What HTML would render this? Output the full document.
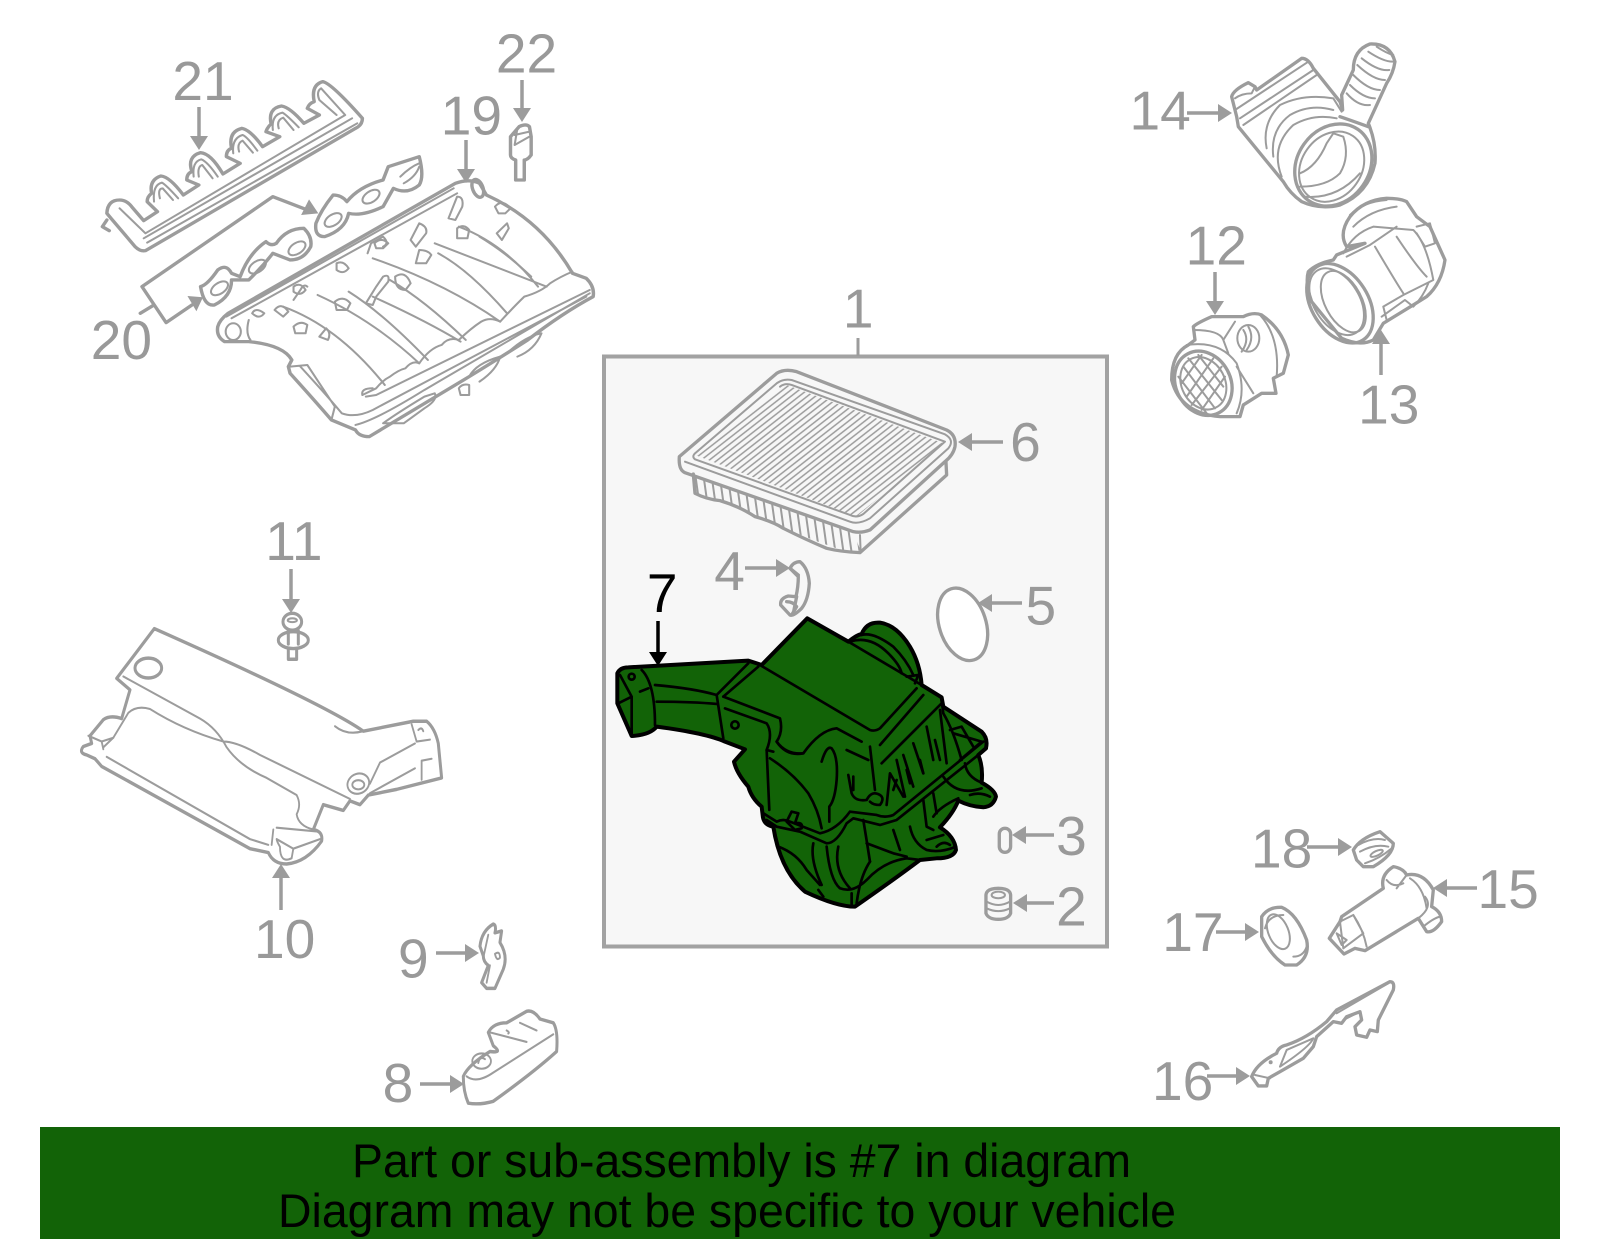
<!DOCTYPE html>
<html><head><meta charset="utf-8"><style>
html,body{margin:0;padding:0;background:#fff;width:1600px;height:1249px;overflow:hidden}
svg{display:block}
.g{fill:none;stroke:#9c9c9c;stroke-linejoin:round;stroke-linecap:round}
.k{fill:none;stroke:#000;stroke-linejoin:round;stroke-linecap:round}
text{font-family:"Liberation Sans",sans-serif}
.n{font-size:54px;fill:#999;text-anchor:middle}
.b{font-size:47px;fill:#000}
</style></head><body>
<svg width="1600" height="1249" viewBox="0 0 1600 1249" xmlns="http://www.w3.org/2000/svg">
<defs>
<pattern id="st" width="15" height="15" patternUnits="userSpaceOnUse" patternTransform="rotate(-38)"><line x1="0" y1="7" x2="15" y2="7" stroke="#9c9c9c" stroke-width="4.500"/></pattern>
<pattern id="fi" width="24" height="24" patternUnits="userSpaceOnUse" patternTransform="rotate(-8)"><line x1="12" y1="0" x2="12" y2="24" stroke="#9c9c9c" stroke-width="6"/></pattern>
</defs>
<rect width="1600" height="1249" fill="#fff"/>
<rect x="604" y="356.500" width="503" height="590" fill="#f7f7f7" stroke="#a2a2a2" stroke-width="4"/>
<rect x="40" y="1127" width="1520" height="112" fill="#126307"/>
<line x1="858" y1="338" x2="858" y2="356" stroke="#9c9c9c" stroke-width="3"/>

<!-- intake manifold, 21, 20, 22 -->
<g transform="translate(80,20) scale(.3444,.3333)">
<g class="g" stroke-width="10">
<path d="M78 580Q80 540 115 540Q135 540 150 560L185 602L225 575L195 545Q195 530 208 520Q200 480 235 468Q260 470 300 525L345 495L310 480Q310 460 325 455Q310 410 350 398Q380 400 415 462L465 430L425 410Q425 390 440 385Q430 335 470 325Q495 330 530 380L580 350L540 335Q545 320 555 312Q545 265 585 258Q610 262 650 310L695 285L660 265Q665 250 680 245Q670 195 705 185Q730 190 820 295Q820 315 800 325L190 692Q175 695 160 680L90 595Z"/>
<path d="M78 600L65 620L85 632"/>
</g>
<g class="g" stroke-width="6">
<path d="M115 565L190 640L770 285L700 205Q685 215 695 240L745 285"/>
<path d="M185 655L790 295M195 668L805 310"/>
<path d="M215 545Q210 495 238 488Q250 495 285 535M232 535Q225 505 240 505L270 540"/>
<path d="M330 470Q325 425 352 418Q370 425 400 470M345 470Q340 440 355 435L385 475"/>
<path d="M445 400Q440 355 472 345Q485 350 515 392M462 395Q455 370 472 362L502 398"/>
<path d="M560 330Q555 285 588 278Q600 285 635 322M577 325Q570 300 590 293L620 330"/>
</g>
<g class="g" stroke-width="10">
<path d="M660 570L560 530L180 800L250 908L325 855M175 880L215 855"/>
<path d="M350 800Q370 795 400 750Q425 730 440 760L465 770Q490 700 540 665Q555 680 570 670Q600 625 650 625Q675 650 670 680Q650 720 610 720L560 700Q530 740 490 780L440 780Q440 830 390 855Q360 860 350 800Z"/>
<path d="M685 610Q700 570 735 525Q760 525 775 545Q810 500 880 480L895 440L985 410Q1000 470 985 495Q950 525 910 505L880 560Q820 590 780 580Q770 630 710 650Q680 650 685 610Z"/>
</g>
<polygon points="692,580 642,585 665,538" fill="#9c9c9c"/>
<polygon points="357,832 312,828 338,874" fill="#9c9c9c"/>
<g class="g" stroke-width="6">
<ellipse cx="405" cy="805" rx="28" ry="16" transform="rotate(-35 405 805)"/>
<ellipse cx="515" cy="740" rx="28" ry="16" transform="rotate(-35 515 740)"/>
<ellipse cx="630" cy="685" rx="28" ry="16" transform="rotate(-35 630 685)"/>
<ellipse cx="735" cy="600" rx="28" ry="16" transform="rotate(-35 735 600)"/>
<ellipse cx="845" cy="530" rx="28" ry="16" transform="rotate(-35 845 530)"/>
<path d="M930 470Q960 440 985 430M940 490Q975 470 985 440"/>
</g>
<g class="g" stroke-width="10">
<path d="M400 920Q405 900 430 880L1090 490Q1130 475 1160 490L1180 525Q1340 600 1430 760L1470 775Q1495 800 1490 830Q1400 880 1300 960Q1240 1000 1130 1070Q1000 1150 840 1250Q810 1250 800 1230L730 1200Q680 1140 610 1060L605 1040L615 1020Q590 975 490 965L420 965Q395 950 400 920Z"/>
<path d="M1250 350L1275 320Q1295 310 1305 320L1310 350V405Q1300 420 1290 420V480H1265V420Q1250 415 1250 405Z"/>
<ellipse cx="1155" cy="505" rx="15" ry="28" transform="rotate(-20 1155 505)"/>
</g>
<g class="g" stroke-width="6">
<path d="M1262 345L1305 335M1262 375L1305 350M1270 325L1262 375"/>
<path d="M490 900Q480 940 495 960M425 890L1085 505M440 895L1095 520"/>
<ellipse cx="445" cy="935" rx="22" ry="25"/>
<path d="M820 1125L860 1105Q880 1080 900 1070Q925 1050 945 1045Q965 1020 985 1030Q1015 985 1050 975Q1070 950 1100 960Q1135 925 1165 905Q1190 890 1220 905Q1260 860 1290 830Q1340 815 1365 790Q1395 770 1430 755"/>
<path d="M820 1125Q815 1105 850 1105M830 1130L860 1125L1480 810"/>
<path d="M590 860Q750 920 885 1095M690 825Q850 900 985 1030M850 830Q1000 900 1105 965M850 715Q1060 790 1220 905M1030 670Q1180 730 1355 800M1100 620Q1230 670 1330 800M835 700L845 670L880 650Q900 670 880 680M620 840L640 810Q650 790 660 800"/>
<path d="M780 815Q880 880 1010 1020M900 780Q1000 840 1120 960M1040 700Q1130 750 1240 880M1160 650Q1240 700 1310 770"/>
<path d="M500 880Q510 860 535 880Q520 900 500 880M565 870Q585 845 605 875L590 890ZM620 800Q640 785 655 810Q640 830 620 815ZM745 730Q765 720 780 745Q765 765 745 750Z"/>
<path d="M620 920Q640 900 660 915L655 940H625ZM695 950L715 925Q730 940 720 960ZM740 845Q765 825 785 850L775 870H745ZM855 670Q875 650 895 670L880 685H860ZM960 660L985 610Q1010 620 1005 640L975 680ZM1070 595L1095 530Q1115 530 1110 560L1090 600ZM1095 625Q1115 610 1130 630L1125 655H1095ZM1210 640L1240 610L1245 625L1225 660ZM1205 560Q1225 535 1250 565L1235 580H1215Z"/>
<path d="M830 850L860 800L880 770Q900 760 895 785L860 830L850 855ZM915 770Q945 750 960 790L945 810Q915 810 915 770ZM985 690Q1010 690 1020 705L1005 730H975Z"/>
<path d="M610 1040L660 1035L740 1160L730 1200M640 1040Q720 1130 760 1180Q800 1195 850 1170L1470 830M800 1215Q860 1200 1000 1110L1480 820"/>
<path d="M880 1210Q920 1180 1000 1130L1030 1120Q1040 1140 1000 1165L940 1210ZM1130 1070Q1150 1030 1220 1010Q1210 1050 1160 1085M1240 1000Q1290 950 1340 940Q1320 990 1270 1010M1100 1105Q1110 1090 1130 1095L1130 1125H1105Z"/>
</g>
</g>

<!-- air filter, 6 -->
<g transform="translate(640,340) scale(.3333)">
<polygon points="165,345 440,135 910,310 650,530" fill="url(#st)"/>
<polygon points="160,402 640,578 662,632 620,636 520,600 420,560 330,520 240,482 165,460" fill="url(#fi)"/>
<g class="g" stroke-width="10">
<path d="M118 350L410 100Q435 85 470 95L920 270Q950 285 945 320Q940 345 915 365L690 570Q665 580 640 575L135 398Q115 390 118 350Z"/>
<path d="M160 402L165 460Q200 478 240 482Q300 500 345 530Q400 545 430 565Q500 600 560 625Q600 635 660 638L920 405L918 365"/>
</g>
<g class="g" stroke-width="6">
<path d="M135 365L630 545Q655 555 690 535L925 325Q945 300 915 283L455 120Q430 115 410 130L165 340Q155 350 165 358L630 525Q650 535 670 522L915 305L455 135Q435 128 420 140"/>
<path d="M660 585L662 635"/>
</g>
</g>

<!-- 4,5,3,2 and air box -->
<g transform="translate(560,560) scale(.3333)">
<g class="g" stroke-width="10">
<path d="M690 25Q700 5 720 5Q745 25 748 70Q745 120 725 145Q700 170 690 165L662 135Q660 115 685 108L708 110Q715 80 715 50Q700 35 690 25Z"/>
<path d="M680 125Q700 125 710 140L695 165M710 110L700 160M715 45L690 25"/>
<ellipse cx="1208" cy="193" rx="70" ry="112" transform="rotate(-18 1208 193)" style="fill:#fff"/>
<rect x="1318" y="805" width="34" height="72" rx="17"/>
<path d="M1278 1005Q1280 985 1315 985Q1350 985 1352 1005L1352 1060Q1345 1078 1315 1078Q1285 1078 1278 1060Z"/>
</g>
<g class="g" stroke-width="6">
<ellipse cx="1315" cy="1005" rx="20" ry="10"/>
<path d="M1280 1025Q1315 1045 1350 1025M1280 1045Q1315 1062 1350 1045"/>
</g>
<path d="M172 340Q180 322 205 322L565 302Q590 310 605 315L742 175L865 245Q890 225 905 222Q920 185 960 188Q1010 195 1050 260Q1080 310 1085 375L1145 412L1150 440L1265 515Q1285 535 1278 565L1255 585Q1270 620 1265 668Q1305 690 1308 710Q1300 740 1270 742Q1230 740 1195 722Q1180 760 1140 802Q1185 830 1188 870Q1180 895 1130 895L1080 900Q1000 960 885 1040Q830 1040 735 995Q660 930 640 800Q610 795 608 765L605 740Q575 715 565 680Q530 640 522 605L555 568L495 545Q440 520 290 500Q270 525 215 528L172 430Z" fill="#126307" stroke="#000" stroke-width="12" stroke-linejoin="round"/>
<g class="k" stroke-width="8">
<path d="M180 345L215 410L215 525M215 410L175 430M245 330Q285 370 285 495M240 395L265 385"/>
<circle cx="215" cy="350" r="9"/>
<path d="M285 375Q400 385 470 405L490 535M290 425Q400 425 470 432M470 405L565 310M490 410L595 320"/>
<path d="M490 410L660 475Q670 515 650 545Q680 585 730 580Q780 510 830 505L905 545M495 445L620 490Q640 520 620 570L640 575"/>
<circle cx="525" cy="495" r="11"/>
<path d="M605 318L930 510Q945 515 960 505L1070 385M865 245L1085 375M960 555L1090 405M965 610L1145 430M1145 420L1150 460Q1180 510 1205 600"/>
<path d="M620 570L628 750M630 595Q700 640 745 700Q775 750 785 805"/>
<path d="M650 545Q680 590 730 580"/>
<path d="M785 605Q800 555 815 565Q835 590 830 660Q825 720 808 740V785M860 570L925 600M930 560L945 690"/>
<path d="M865 645L875 700Q885 725 920 720Q935 690 960 705Q975 715 960 735Q940 735 930 725M880 650V690M980 735L990 640L1030 710M1010 600L1035 710M1030 585L1060 680M1060 550L1090 640M1100 500L1120 600M1140 450L1160 610"/>
<path d="M1000 690L1010 660M1040 630L1050 670M1080 600L1090 640M1125 540L1140 600"/>
<path d="M1170 510L1205 500L1240 560M1180 520L1265 545L1200 600"/>
<path d="M610 760L650 785Q670 775 690 785L780 820Q830 810 870 755L950 765Q975 775 1000 765L1270 545M620 780L650 800L720 815L800 850Q830 850 860 790L880 775L960 795L1010 780L1280 565M680 785L695 755L715 760L705 790Q730 785 725 805L705 810Z"/>
<path d="M910 780Q920 840 930 905M1000 810L1020 870M1050 800Q1060 850 1100 870Q1140 880 1188 860M1130 860Q1150 840 1170 855M1100 840L1150 825"/>
<path d="M640 800L655 860Q710 880 740 930L780 975M760 850Q750 900 785 975M800 860Q810 960 840 985Q880 1000 920 960Q970 905 1040 895L1080 900M835 860Q820 930 870 985M920 850L1000 880L1040 890M930 905Q900 950 890 1030M775 990L790 1010M875 1000V1040"/>
<path d="M1120 770Q1140 740 1195 715M1150 650Q1190 710 1265 685M1230 705Q1260 695 1290 710M1130 760L1120 700M1090 720L1100 800L1120 810M1215 610Q1220 650 1265 668"/>
<path d="M905 225Q940 215 1000 260Q1040 300 1060 345M870 245Q930 225 985 280Q1020 315 1025 340M1040 350L1075 345L1065 370"/>
</g>
</g>

<!-- 10, 11, 9, 8 -->
<g transform="translate(60,510) scale(.3333,.3827)">
<g class="g" stroke-width="9">
<path d="M283 310L170 440L210 470L185 545Q150 535 130 548L90 590L95 610L70 618Q55 635 80 640L105 650L125 670L570 885L625 895Q640 925 680 925Q740 920 785 865Q790 840 760 835L790 770L850 785L870 760L900 770L925 745L1010 730L1145 700L1135 610Q1125 570 1100 552L1060 552L910 578Q800 510 283 310Z"/>
<ellipse cx="265" cy="413" rx="40" ry="26"/>
</g>
<g class="g" stroke-width="5.500">
<path d="M190 435L420 545Q470 570 500 620Q540 670 620 700L710 745Q725 770 710 795Q715 825 760 835"/>
<path d="M130 620L160 595L205 530Q230 510 270 520Q370 575 490 605Q530 605 600 640L870 755"/>
<path d="M85 590L125 605L160 595M125 605L130 625"/>
<path d="M140 645L570 860L625 875M640 835L635 875M650 830L770 840M700 885L780 860M650 860L700 885L695 910Q660 925 660 880Q650 865 650 860"/>
<path d="M825 565Q860 590 910 578M1055 560L1070 605L1110 600M1065 610L960 660L930 715M1085 655L1115 650M1085 655V705M1065 675L930 740"/>
<ellipse cx="895" cy="715" rx="33" ry="26" transform="rotate(-15 895 715)"/>
<ellipse cx="895" cy="718" rx="18" ry="12"/>
<path d="M1075 575Q1085 565 1090 578"/>
</g>
<g class="g" stroke-width="9">
<ellipse cx="697" cy="292" rx="28" ry="22"/>
<ellipse cx="700" cy="340" rx="45" ry="22"/>
<path d="M685 315V350M715 315V350M685 365V390H710V365"/>
<path d="M1260 1140Q1265 1100 1300 1082Q1310 1085 1305 1105L1325 1100L1320 1130Q1345 1165 1330 1200L1305 1250H1280L1265 1235L1285 1190Q1270 1180 1270 1165Z"/>
<path d="M1210 1480Q1225 1450 1290 1415Q1330 1420 1300 1400L1285 1365Q1300 1340 1340 1340L1400 1310Q1420 1305 1440 1330L1480 1340Q1495 1360 1490 1415Q1420 1470 1300 1545Q1260 1555 1225 1550Q1210 1520 1210 1480Z"/>
</g>
<g class="g" stroke-width="5.500">
<ellipse cx="697" cy="288" rx="14" ry="5"/>
<ellipse cx="1265" cy="1440" rx="28" ry="20"/>
<path d="M1255 1445Q1260 1425 1275 1435M1220 1480Q1250 1500 1300 1470L1480 1370M1290 1365L1400 1390M1340 1360Q1350 1365 1345 1368M1380 1340L1430 1360"/>
<path d="M1305 1160Q1320 1150 1320 1170Q1310 1180 1305 1160M1285 1110L1270 1170M1290 1190L1280 1235"/>
</g>
</g>

<!-- 14, 13, 12 -->
<g transform="translate(1120,30) scale(.3333)">
<g class="g" stroke-width="10">
<path d="M335 200Q340 180 385 158L405 170L410 180L545 85Q565 85 580 115L660 215L668 240L665 195L700 120Q700 60 750 42Q810 40 825 95Q820 130 800 160L745 280Q770 340 765 400Q745 490 660 525Q600 540 545 515Q510 490 490 455L355 290L350 260Z"/>
<path d="M660 260Q690 270 745 290"/>
<ellipse cx="640" cy="405" rx="108" ry="130" transform="rotate(35 640 405)"/>
<path d="M665 925L575 815Q555 760 565 725Q590 700 640 690L650 675L735 640L680 650Q655 610 690 560Q730 510 800 505Q840 505 860 515L890 560L930 590L975 690Q965 760 920 800L880 825L790 880L760 930Q720 950 665 925Z"/>
<ellipse cx="660" cy="820" rx="85" ry="130" transform="rotate(-32 660 820)"/>
<path d="M220 890Q230 880 275 860L370 860Q400 845 425 855Q490 900 505 975L490 1030L460 1045L468 1090L425 1090L370 1125L360 1160L300 1160Q180 1150 155 1050Q155 970 205 945L225 930Z"/>
<ellipse cx="250" cy="1060" rx="82" ry="100" transform="rotate(-28 250 1060)"/>
</g>
<g class="g" stroke-width="6">
<ellipse cx="635" cy="410" rx="90" ry="112" transform="rotate(35 635 410)"/>
<path d="M540 430Q590 410 620 340L640 310L670 320Q690 380 660 430Q620 470 540 470M550 500Q650 510 720 430"/>
<path d="M345 240L565 95M360 265L580 120M370 285L590 135M440 355Q425 280 480 225Q550 190 640 205L665 245M460 380Q450 300 510 255Q570 220 640 240M485 440Q450 350 520 285Q580 250 650 265"/>
<path d="M345 205Q365 190 395 190L405 170"/>
<path d="M680 190Q715 230 750 225M690 165Q730 205 765 205M700 135Q745 180 780 180M712 105Q760 150 795 150M725 85Q775 125 808 120M745 65Q790 95 818 95M770 50Q800 70 820 75"/>
<ellipse cx="650" cy="815" rx="68" ry="110" transform="rotate(-32 650 815)"/>
<ellipse cx="670" cy="815" rx="55" ry="100" transform="rotate(-28 670 815)"/>
<path d="M690 555Q730 515 800 510M700 590Q750 540 830 530M670 670Q700 610 760 590L880 600Q920 640 940 750L850 795L790 830M680 680L750 645L830 590M765 650Q830 760 850 790M830 620Q890 710 920 740M890 590L930 580L945 640L915 650L890 610M785 860L855 810L880 830Q910 800 925 760M790 830L800 870"/>
<ellipse cx="250" cy="1060" rx="65" ry="82" transform="rotate(-28 250 1060)"/>
<path d="M190 1010L285 1135M205 985L305 1110M235 975L310 1070M175 1040L260 1150M200 1100L280 985M215 1125L305 1010M245 1140L315 1040M185 1060L245 975"/>
<path d="M220 900Q300 900 310 930L345 875M310 930L325 970M200 945Q300 930 350 1000Q380 1080 350 1150M350 1010L400 1090"/>
<ellipse cx="385" cy="925" rx="33" ry="40"/>
<path d="M385 890Q405 925 380 960M370 900Q390 930 365 965M420 855Q480 920 470 1040"/>
</g>
</g>

<!-- 18, 15, 17, 16 -->
<g transform="translate(1140,800) scale(.3333)">
<g class="g" stroke-width="10">
<path d="M640 150Q660 115 720 95L760 130Q760 165 700 200H670L650 180Z"/>
<path d="M605 350L730 265Q720 225 760 200Q790 205 800 225Q850 215 880 270L875 320Q905 335 905 365Q880 400 860 395L835 355L675 452L645 445L612 462L568 415L600 365Z"/>
<path d="M365 350Q385 320 425 322Q470 340 500 420Q510 470 470 495H435Q395 470 365 410Z"/>
<path d="M335 830Q350 790 410 760Q415 740 440 735Q500 715 560 665L590 630L750 545Q765 545 760 570L715 660L712 695L690 690L680 712L650 705L645 680L665 660L660 635L620 650L605 670L580 665L530 710L520 740L490 775L420 815L385 835L380 858H355Z"/>
</g>
<g class="g" stroke-width="6">
<path d="M655 135Q700 110 735 120M660 155Q705 130 745 140M675 190Q720 175 755 145"/>
<ellipse cx="710" cy="160" rx="20" ry="7" transform="rotate(-25 710 160)"/>
<path d="M600 365L640 345L670 400L610 445ZM640 345Q670 390 680 440M590 400L605 435L620 420ZM800 225L770 265M810 235Q850 260 860 325M835 355Q880 320 855 290M740 240Q760 265 790 250M850 380Q880 355 900 350"/>
<ellipse cx="415" cy="395" rx="30" ry="55" transform="rotate(-22 415 395)"/>
<path d="M375 385Q385 345 430 345M460 470Q490 470 500 440"/>
<path d="M420 800Q510 740 520 715L440 750ZM345 825L390 835M590 640L745 550M610 660L660 635"/>
</g>
<circle cx="392" cy="787" r="6" fill="#9c9c9c"/>
</g>

<!-- arrows -->
<g stroke="#9c9c9c" stroke-width="3.500" fill="#9c9c9c">
<line x1="199" y1="107" x2="199" y2="140"/><polygon points="199,150 190,136 208,136" stroke="none"/>
<line x1="522" y1="80" x2="522" y2="112"/><polygon points="522,122 513,108 531,108" stroke="none"/>
<line x1="466" y1="140" x2="466" y2="172"/><polygon points="466,183 457,169 475,169" stroke="none"/>
<line x1="1187" y1="113" x2="1222" y2="113"/><polygon points="1232,113 1218,104 1218,122" stroke="none"/>
<line x1="1215" y1="272" x2="1215" y2="305"/><polygon points="1215,315 1206,301 1224,301" stroke="none"/>
<line x1="1381" y1="375" x2="1381" y2="340"/><polygon points="1381,330 1372,344 1390,344" stroke="none"/>
<line x1="1003" y1="442" x2="968" y2="442"/><polygon points="958,442 972,433 972,451" stroke="none"/>
<line x1="745" y1="568" x2="780" y2="568"/><polygon points="790,568 776,559 776,577" stroke="none"/>
<line x1="1022" y1="603" x2="988" y2="603"/><polygon points="978,603 992,594 992,612" stroke="none"/>
<line x1="1054" y1="835" x2="1022" y2="835"/><polygon points="1012,835 1026,826 1026,844" stroke="none"/>
<line x1="1054" y1="903" x2="1023" y2="903"/><polygon points="1013,903 1027,894 1027,912" stroke="none"/>
<line x1="291" y1="569" x2="291" y2="603"/><polygon points="291,613 282,599 300,599" stroke="none"/>
<line x1="281" y1="910" x2="281" y2="874"/><polygon points="281,864 272,878 290,878" stroke="none"/>
<line x1="436" y1="953" x2="469" y2="953"/><polygon points="479,953 465,944 465,962" stroke="none"/>
<line x1="420" y1="1084" x2="454" y2="1084"/><polygon points="464,1084 450,1075 450,1093" stroke="none"/>
<line x1="1307" y1="847" x2="1342" y2="847"/><polygon points="1352,847 1338,838 1338,856" stroke="none"/>
<line x1="1477" y1="888" x2="1443" y2="888"/><polygon points="1433,888 1447,879 1447,897" stroke="none"/>
<line x1="1216" y1="932" x2="1249" y2="932"/><polygon points="1259,932 1245,923 1245,941" stroke="none"/>
<line x1="1207" y1="1076" x2="1240" y2="1076"/><polygon points="1250,1076 1236,1067 1236,1085" stroke="none"/>
</g>
<line x1="658" y1="621" x2="658" y2="656" stroke="#000" stroke-width="3.500"/>
<polygon points="658,666 649,652 667,652" fill="#000"/>

<!-- labels -->
<g transform="scale(1.0204)">
<text class="n" x="199" y="98">21</text>
<text class="n" x="516" y="71">22</text>
<text class="n" x="462" y="132">19</text>
<text class="n" x="119" y="352">20</text>
<text class="n" x="1137" y="127">14</text>
<text class="n" x="1192" y="259">12</text>
<text class="n" x="1361" y="415">13</text>
<text class="n" x="841" y="321">1</text>
<text class="n" x="1005" y="452">6</text>
<text class="n" x="715" y="578">4</text>
<text class="n" x="1020" y="612">5</text>
<text class="n" x="649" y="600" style="fill:#000">7</text>
<text class="n" x="1050" y="838">3</text>
<text class="n" x="1050" y="907">2</text>
<text class="n" x="1478" y="890">15</text>
<text class="n" x="1256" y="850">18</text>
<text class="n" x="1169" y="932">17</text>
<text class="n" x="1159" y="1078">16</text>
<text class="n" x="288" y="549">11</text>
<text class="n" x="279" y="939">10</text>
<text class="n" x="405" y="958">9</text>
<text class="n" x="390" y="1080">8</text>
</g>
<text class="b" x="352" y="1177" textLength="779" lengthAdjust="spacingAndGlyphs">Part or sub-assembly is #7 in diagram</text>
<text class="b" x="278" y="1227" textLength="898" lengthAdjust="spacingAndGlyphs">Diagram may not be specific to your vehicle</text>
</svg>
</body></html>
